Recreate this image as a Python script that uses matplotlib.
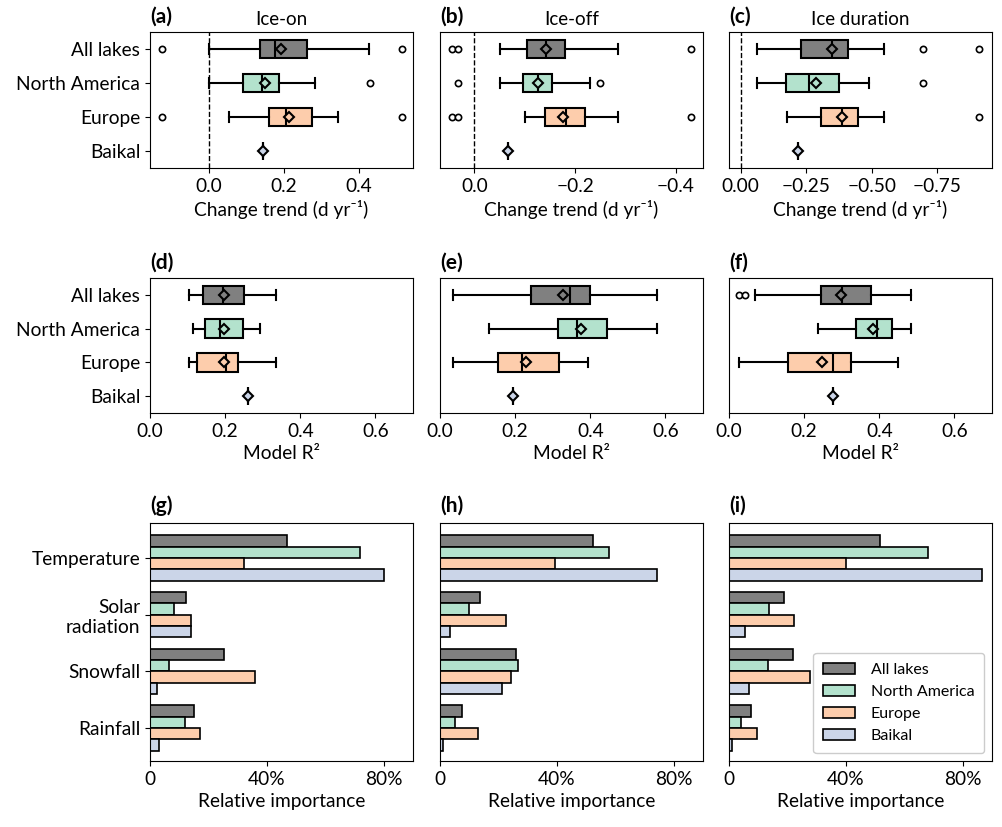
import matplotlib
matplotlib.use("Agg")
import matplotlib.pyplot as plt
from matplotlib.ticker import FuncFormatter

plt.rcParams["font.family"] = ["Lato", "DejaVu Sans"]
plt.rcParams["font.size"] = 13.8

groups = ["All lakes", "North America", "Europe", "Baikal"]
colors = ["#808080", "#b3e2cd", "#fdcdac", "#cbd5e8"]

# box stats per panel: q1, median, q3, whisker low, whisker high, mean, fliers
ice_on = [
    dict(q1=0.136, med=0.176, q3=0.262, whislo=0.0, whishi=0.427, mean=0.192, fliers=[-0.125, 0.514]),
    dict(q1=0.092, med=0.142, q3=0.188, whislo=0.0, whishi=0.283, mean=0.149, fliers=[0.429]),
    dict(q1=0.159, med=0.205, q3=0.274, whislo=0.054, whishi=0.345, mean=0.214, fliers=[-0.125, 0.514]),
    dict(q1=0.145, med=0.145, q3=0.145, whislo=0.145, whishi=0.145, mean=0.145, fliers=[]),
]
ice_off = [
    dict(q1=-0.181, med=-0.142, q3=-0.104, whislo=-0.286, whishi=-0.051, mean=-0.142, fliers=[0.045, 0.032, -0.430]),
    dict(q1=-0.155, med=-0.127, q3=-0.096, whislo=-0.230, whishi=-0.051, mean=-0.127, fliers=[0.033, -0.249]),
    dict(q1=-0.219, med=-0.183, q3=-0.141, whislo=-0.286, whishi=-0.101, mean=-0.177, fliers=[0.045, 0.032, -0.430]),
    dict(q1=-0.066, med=-0.066, q3=-0.066, whislo=-0.066, whishi=-0.066, mean=-0.066, fliers=[]),
]
ice_dur = [
    dict(q1=-0.410, med=-0.350, q3=-0.232, whislo=-0.547, whishi=-0.061, mean=-0.350, fliers=[-0.695, -0.912]),
    dict(q1=-0.375, med=-0.259, q3=-0.172, whislo=-0.490, whishi=-0.061, mean=-0.289, fliers=[-0.695]),
    dict(q1=-0.448, med=-0.388, q3=-0.308, whislo=-0.547, whishi=-0.175, mean=-0.388, fliers=[-0.912]),
    dict(q1=-0.218, med=-0.218, q3=-0.218, whislo=-0.218, whishi=-0.218, mean=-0.218, fliers=[]),
]
r2_on = [
    dict(q1=0.140, med=0.195, q3=0.251, whislo=0.105, whishi=0.335, mean=0.198, fliers=[]),
    dict(q1=0.146, med=0.186, q3=0.248, whislo=0.115, whishi=0.294, mean=0.198, fliers=[]),
    dict(q1=0.124, med=0.202, q3=0.233, whislo=0.105, whishi=0.335, mean=0.198, fliers=[]),
    dict(q1=0.260, med=0.260, q3=0.260, whislo=0.260, whishi=0.260, mean=0.260, fliers=[]),
]
r2_off = [
    dict(q1=0.243, med=0.347, q3=0.400, whislo=0.034, whishi=0.578, mean=0.327, fliers=[]),
    dict(q1=0.314, med=0.364, q3=0.444, whislo=0.131, whishi=0.578, mean=0.375, fliers=[]),
    dict(q1=0.154, med=0.218, q3=0.316, whislo=0.034, whishi=0.394, mean=0.228, fliers=[]),
    dict(q1=0.193, med=0.193, q3=0.193, whislo=0.193, whishi=0.193, mean=0.193, fliers=[]),
]
r2_dur = [
    dict(q1=0.246, med=0.300, q3=0.377, whislo=0.069, whishi=0.485, mean=0.297, fliers=[0.026, 0.042]),
    dict(q1=0.337, med=0.393, q3=0.435, whislo=0.236, whishi=0.485, mean=0.382, fliers=[]),
    dict(q1=0.156, med=0.277, q3=0.326, whislo=0.027, whishi=0.451, mean=0.248, fliers=[]),
    dict(q1=0.277, med=0.277, q3=0.277, whislo=0.277, whishi=0.277, mean=0.277, fliers=[]),
]

drivers = ["Temperature", "Solar\nradiation", "Snowfall", "Rainfall"]
# relative importance, one list per group (order of drivers)
imp_on = {
    "All lakes": [0.468, 0.123, 0.252, 0.152],
    "North America": [0.720, 0.083, 0.066, 0.120],
    "Europe": [0.320, 0.140, 0.358, 0.172],
    "Baikal": [0.802, 0.142, 0.023, 0.030],
}
imp_off = {
    "All lakes": [0.522, 0.137, 0.259, 0.075],
    "North America": [0.577, 0.099, 0.266, 0.051],
    "Europe": [0.394, 0.226, 0.242, 0.131],
    "Baikal": [0.741, 0.034, 0.211, 0.009],
}
imp_dur = {
    "All lakes": [0.516, 0.188, 0.218, 0.074],
    "North America": [0.681, 0.136, 0.132, 0.041],
    "Europe": [0.402, 0.222, 0.277, 0.095],
    "Baikal": [0.867, 0.054, 0.068, 0.009],
}

W, H = 1002, 827
fig = plt.figure(figsize=(W / 100, H / 100), dpi=100)


def add_ax(left, top, width, height):
    return fig.add_axes([left / W, 1 - (top + height) / H, width / W, height / H])


lefts = [150, 440, 729]
aw = 263


def draw_box(ax, stats):
    ax.bxp(
        stats,
        positions=range(1, 5),
        vert=False,
        widths=0.55,
        patch_artist=True,
        showmeans=True,
        boxprops=dict(edgecolor="black", linewidth=1.5),
        whiskerprops=dict(color="black", linewidth=1.5),
        capprops=dict(color="black", linewidth=1.5),
        medianprops=dict(color="black", linewidth=1.5),
        flierprops=dict(marker="o", markerfacecolor="white", markeredgecolor="black",
                        markersize=4.5, markeredgewidth=1.2),
        meanprops=dict(marker="D", markeredgecolor="black", markersize=5, markeredgewidth=1.5),
    )
    for patch, c in zip(ax.patches, colors):
        patch.set_facecolor(c)
    for line, c in zip([l for l in ax.lines if l.get_marker() == "D"], colors):
        line.set_markerfacecolor(c)
    ax.set_ylim(4.5, 0.5)


def panel_label(ax, letter, y=1.04):
    ax.text(0.0, y, f"({letter})", transform=ax.transAxes, fontweight="bold",
            fontsize=15, ha="left", va="bottom")


top_stats = [ice_on, ice_off, ice_dur]
top_xlim = [(-0.157, 0.544), (0.068, -0.454), (0.045, -0.96)]
top_ticks = [[0.0, 0.2, 0.4], [0.0, -0.2, -0.4], [0.0, -0.25, -0.5, -0.75]]
top_fmt = ["{:.1f}", "{:.1f}", "{:.2f}"]
titles = ["Ice-on", "Ice-off", "Ice duration"]
letters = "abcdefghi"

for i in range(3):
    ax = add_ax(lefts[i], 32, aw, 136)
    ax.axvline(0, color="black", linestyle="--", linewidth=1)
    draw_box(ax, top_stats[i])
    ax.set_xlim(*top_xlim[i])
    ax.set_xticks(top_ticks[i])
    ax.set_xticklabels([top_fmt[i].format(t).replace("-", "\u2212") for t in top_ticks[i]])
    ax.set_xlabel("Change trend (d yr\u207b\u00b9)")
    ax.set_title(titles[i], fontsize=13.5, pad=5)
    panel_label(ax, letters[i])
    if i == 0:
        ax.set_yticks(range(1, 5))
        ax.set_yticklabels(groups)
    else:
        ax.set_yticks([])

mid_stats = [r2_on, r2_off, r2_dur]
for i in range(3):
    ax = add_ax(lefts[i], 278, aw, 135)
    draw_box(ax, mid_stats[i])
    ax.set_xlim(0, 0.7)
    ax.set_xticks([0.0, 0.2, 0.4, 0.6])
    ax.set_xticklabels(["0.0", "0.2", "0.4", "0.6"])
    ax.set_xlabel("Model R\u00b2")
    panel_label(ax, letters[i + 3])
    if i == 0:
        ax.set_yticks(range(1, 5))
        ax.set_yticklabels(groups)
    else:
        ax.set_yticks([])

imps = [imp_on, imp_off, imp_dur]
offsets = [-0.3, -0.1, 0.1, 0.3]
for i in range(3):
    ax = add_ax(lefts[i], 523, aw, 238)
    for g, c, off in zip(groups, colors, offsets):
        ax.barh([k + off for k in range(len(drivers))], imps[i][g], height=0.2,
                color=c, edgecolor="black", linewidth=1.2, label=g)
    ax.set_ylim(3.58, -0.62)
    ax.set_xlim(0, 0.9)
    ax.set_xticks([0, 0.4, 0.8])
    ax.xaxis.set_major_formatter(FuncFormatter(lambda v, p: "0" if v == 0 else f"{v * 100:.0f}%"))
    ax.set_xlabel("Relative importance")
    panel_label(ax, letters[i + 6], y=1.03)
    if i == 0:
        ax.set_yticks(range(len(drivers)))
        ax.set_yticklabels(drivers)
    else:
        ax.set_yticks([])
    if i == 2:
        ax.legend(loc="lower right", fontsize=11.5, handlelength=2.0, borderpad=0.6,
                  labelspacing=0.5, handletextpad=1.0, framealpha=1)

fig.savefig("out.png", dpi=100)
